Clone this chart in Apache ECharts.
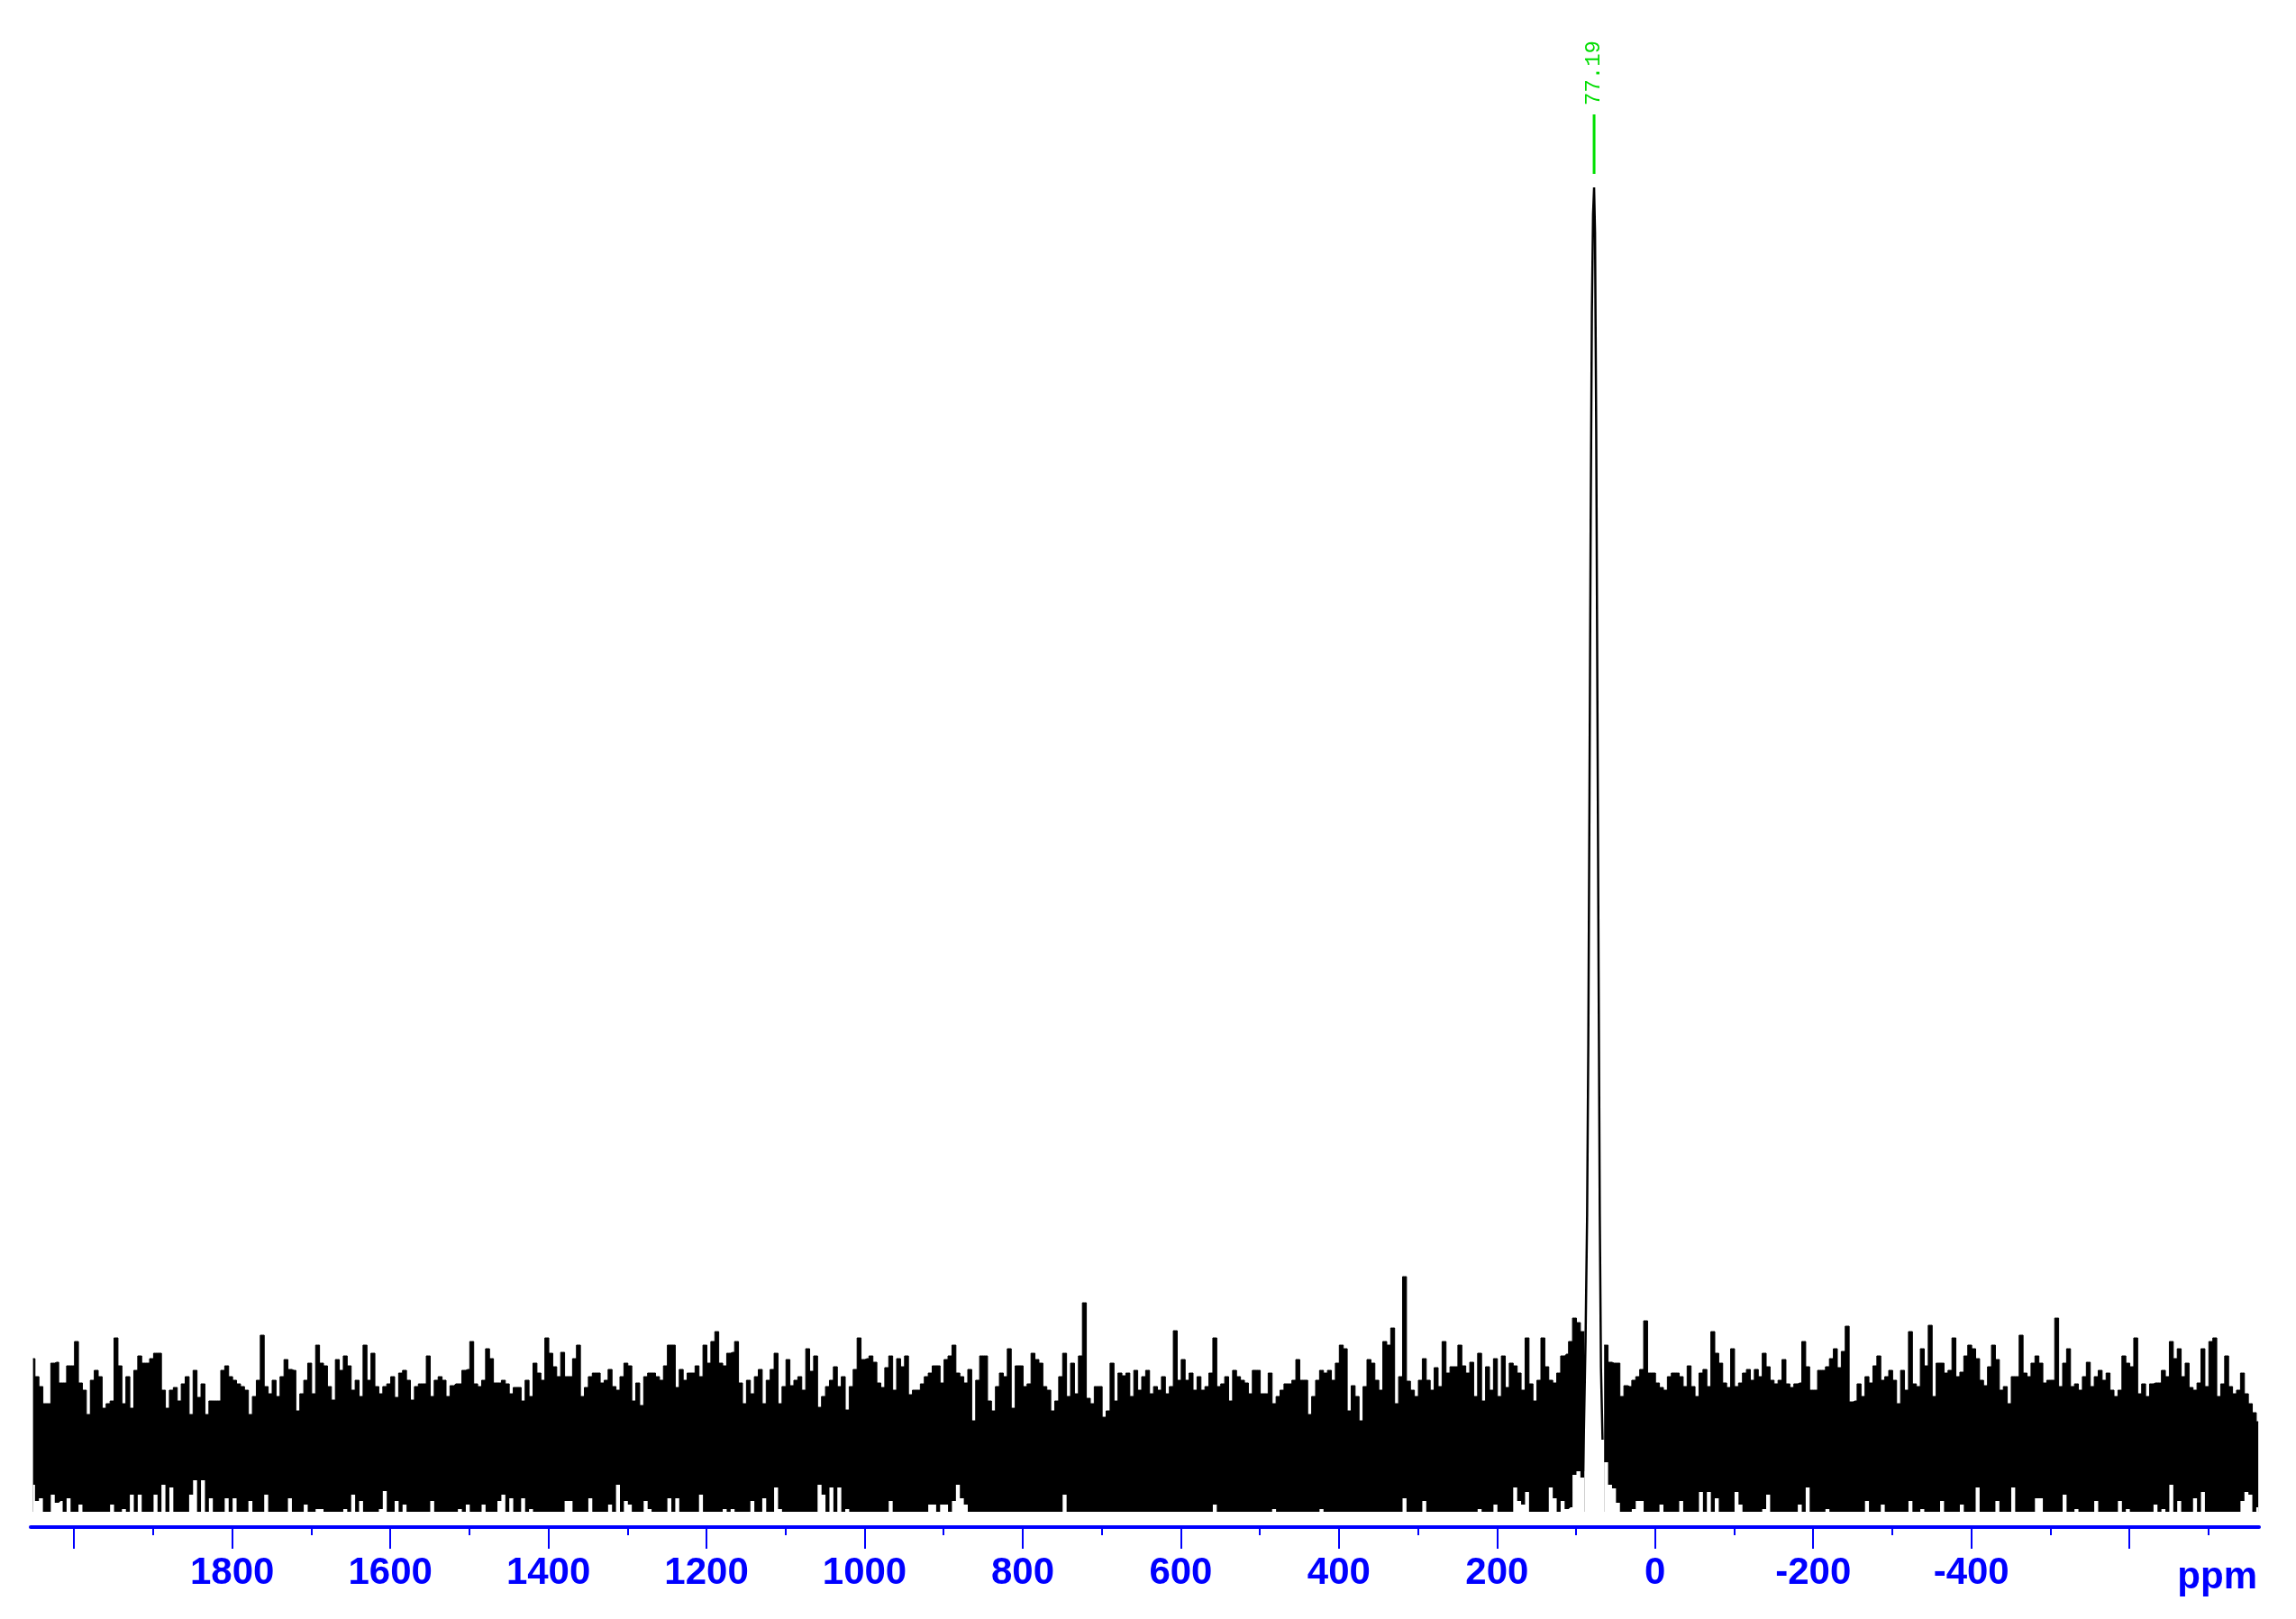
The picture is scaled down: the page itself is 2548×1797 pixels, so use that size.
<!DOCTYPE html>
<html>
<head>
<meta charset="utf-8">
<title>spectrum 77.19 ppm</title>
<script src="https://cdn.jsdelivr.net/npm/echarts@6/dist/echarts.min.js"></script>
<style>
  html, body { margin: 0; padding: 0; background: #fff; }
  #main { width: 2548px; height: 1797px; }
</style>
</head>
<body>
<div id="main"></div>
<script>
// noise columns, one every 5 ppm from 2052 ppm downwards
const noiseStart = 2052
const noiseStep = 5
// upper edge of the noise in each column (null where the peak is)
const noiseTop = [
  170, 150, 139, 120, 120, 165, 166, 143, 143, 162,
  162, 189, 143, 135, 108, 146, 157, 150, 115, 120,
  123, 193, 162, 120, 150, 115, 157, 173, 165, 165,
  170, 176, 176, 135, 115, 135, 138, 123, 142, 150,
  108, 157, 127, 142, 108, 123, 123, 123, 157, 162,
  150, 146, 142, 139, 135, 108, 128, 146, 196, 139,
  131, 146, 128, 150, 169, 158, 157, 112, 131, 146,
  165, 131, 185, 165, 162, 139, 124, 169, 157, 173,
  162, 135, 146, 128, 185, 146, 176, 139, 131, 139,
  142, 150, 127, 154, 157, 146, 124, 139, 142, 142,
  173, 128, 146, 150, 146, 128, 140, 142, 142, 157,
  158, 189, 142, 139, 146, 181, 170, 143, 143, 146,
  142, 131, 138, 138, 123, 146, 128, 165, 154, 146,
  193, 176, 161, 150, 177, 150, 150, 170, 185, 128,
  138, 150, 154, 154, 143, 146, 158, 139, 135, 150,
  165, 162, 123, 143, 118, 150, 154, 154, 150, 146,
  162, 185, 185, 138, 158, 146, 154, 154, 162, 150,
  185, 165, 189, 200, 165, 162, 176, 177, 189, 143,
  120, 146, 131, 150, 158, 120, 146, 158, 176, 120,
  139, 169, 140, 146, 150, 135, 181, 156, 173, 116,
  128, 139, 146, 161, 139, 150, 113, 139, 158, 193,
  169, 170, 173, 166, 143, 138, 160, 173, 135, 170,
  161, 173, 130, 135, 135, 142, 150, 154, 162, 162,
  143, 169, 173, 185, 154, 150, 143, 158, 101, 146,
  173, 173, 123, 112, 139, 154, 150, 181, 115, 162,
  162, 139, 142, 176, 169, 165, 139, 135, 112, 123,
  150, 176, 128, 165, 131, 173, 232, 126, 120, 139,
  139, 105, 112, 165, 123, 154, 151, 154, 128, 157,
  135, 150, 157, 131, 139, 135, 150, 131, 139, 201,
  146, 169, 146, 154, 135, 150, 135, 139, 154, 193,
  139, 142, 150, 123, 157, 150, 146, 143, 131, 157,
  157, 131, 131, 154, 120, 128, 135, 142, 142, 146,
  169, 146, 146, 108, 128, 146, 157, 154, 157, 146,
  165, 185, 181, 112, 140, 128, 101, 139, 169, 165,
  146, 135, 189, 185, 204, 120, 150, 261, 145, 135,
  128, 146, 170, 146, 135, 160, 139, 189, 154, 161,
  161, 185, 162, 154, 166, 128, 176, 123, 161, 135,
  170, 128, 173, 138, 165, 162, 154, 135, 193, 142,
  123, 146, 193, 161, 146, 143, 154, 173, 175, 189,
  215, 210, 200, null, null, null, null, null, 185, 166,
  165, 165, 128, 140, 139, 146, 150, 158, 212, 154,
  154, 143, 138, 135, 150, 154, 154, 150, 139, 162,
  139, 128, 154, 158, 139, 200, 176, 165, 143, 138,
  181, 139, 143, 154, 158, 146, 158, 150, 176, 161,
  146, 142, 146, 169, 142, 138, 142, 143, 189, 161,
  135, 135, 157, 157, 161, 170, 181, 160, 178, 206,
  122, 123, 142, 128, 150, 143, 162, 173, 146, 150,
  157, 146, 120, 157, 135, 200, 142, 139, 181, 162,
  207, 128, 165, 165, 154, 157, 193, 150, 155, 173,
  185, 181, 170, 146, 140, 161, 185, 169, 135, 139,
  120, 150, 150, 196, 154, 150, 165, 173, 165, 143,
  146, 146, 215, 139, 165, 181, 139, 142, 135, 150,
  166, 139, 150, 157, 146, 154, 135, 128, 135, 173,
  165, 161, 193, 131, 142, 128, 142, 143, 143, 157,
  150, 189, 170, 181, 150, 165, 138, 135, 143, 181,
  139, 189, 193, 128, 142, 173, 139, 131, 135, 154,
  131, 120, 110, 100
]
// lower edge of the noise (white gaps above the floor)
const noiseBottom = [
  30, 12, 15, 0, 0, 19, 10, 12, 0, 15,
  0, 0, 8, 0, 0, 0, 0, 0, 0, 0,
  8, 0, 0, 3, 0, 19, 0, 19, 0, 0,
  0, 19, 0, 30, 0, 27, 0, 0, 0, 0,
  19, 35, 0, 35, 0, 15, 0, 0, 0, 15,
  0, 15, 0, 0, 0, 12, 0, 0, 0, 19,
  0, 0, 0, 0, 0, 15, 0, 0, 0, 8,
  0, 0, 3, 3, 0, 0, 0, 0, 0, 3,
  0, 19, 0, 12, 0, 0, 0, 0, 3, 23,
  0, 0, 12, 0, 8, 0, 0, 0, 0, 0,
  0, 12, 0, 0, 0, 0, 0, 0, 3, 0,
  8, 0, 0, 0, 8, 0, 0, 0, 12, 19,
  0, 15, 0, 0, 15, 0, 3, 0, 0, 0,
  0, 0, 0, 0, 0, 12, 12, 0, 0, 0,
  0, 15, 0, 0, 0, 0, 8, 0, 30, 0,
  12, 8, 0, 0, 0, 12, 3, 0, 0, 0,
  0, 15, 0, 15, 0, 0, 0, 0, 0, 19,
  0, 0, 0, 0, 0, 3, 0, 3, 0, 0,
  0, 0, 12, 0, 0, 15, 0, 0, 27, 3,
  0, 0, 0, 0, 0, 0, 0, 0, 0, 30,
  19, 0, 27, 0, 27, 0, 3, 0, 0, 0,
  0, 0, 0, 0, 0, 0, 0, 12, 0, 0,
  0, 0, 0, 0, 0, 0, 0, 8, 8, 0,
  8, 8, 0, 12, 30, 15, 8, 0, 0, 0,
  0, 0, 0, 0, 0, 0, 0, 0, 0, 0,
  0, 0, 0, 0, 0, 0, 0, 0, 0, 0,
  0, 19, 0, 0, 0, 0, 0, 0, 0, 0,
  0, 0, 0, 0, 0, 0, 0, 0, 0, 0,
  0, 0, 0, 0, 0, 0, 0, 0, 0, 0,
  0, 0, 0, 0, 0, 0, 0, 0, 0, 8,
  0, 0, 0, 0, 0, 0, 0, 0, 0, 0,
  0, 0, 0, 0, 3, 0, 0, 0, 0, 0,
  0, 0, 0, 0, 0, 0, 3, 0, 0, 0,
  0, 0, 0, 0, 0, 0, 0, 0, 0, 0,
  0, 0, 0, 0, 0, 0, 0, 15, 0, 0,
  0, 0, 12, 0, 0, 0, 0, 0, 0, 0,
  0, 0, 0, 0, 0, 0, 3, 0, 0, 0,
  8, 0, 0, 0, 0, 27, 12, 8, 22, 0,
  0, 0, 0, 0, 27, 15, 0, 12, 3, 5,
  41, 45, 38, null, null, null, null, null, 55, 30,
  26, 10, 0, 0, 0, 3, 12, 12, 0, 0,
  0, 0, 8, 0, 0, 0, 0, 12, 0, 0,
  0, 0, 22, 0, 22, 0, 15, 0, 0, 0,
  0, 22, 8, 0, 0, 0, 0, 0, 3, 19,
  0, 0, 0, 0, 0, 0, 0, 8, 0, 27,
  0, 0, 0, 0, 3, 0, 0, 0, 0, 0,
  0, 0, 0, 0, 12, 0, 0, 0, 8, 0,
  0, 0, 0, 0, 0, 12, 0, 0, 3, 0,
  0, 0, 0, 12, 0, 0, 0, 0, 8, 0,
  0, 0, 27, 0, 0, 0, 0, 12, 0, 0,
  0, 27, 0, 0, 0, 0, 0, 15, 15, 0,
  0, 0, 0, 0, 19, 0, 0, 3, 0, 0,
  0, 0, 12, 0, 0, 0, 0, 0, 12, 0,
  3, 0, 0, 0, 0, 0, 0, 8, 0, 3,
  0, 30, 0, 12, 0, 0, 0, 15, 0, 22,
  0, 0, 0, 0, 0, 0, 0, 0, 0, 12,
  22, 19, 0, 5
]
// the single resonance
const peakPpm = [91, 88, 86, 84.5, 83, 81.5, 80, 78.5, 77.19, 76, 74.5, 73, 71.5, 70, 68.5, 66.5]
const peakValue = [45, 190, 330, 520, 800, 1100, 1330, 1440, 1470, 1420, 1200, 900, 600, 330, 160, 80]
const peakLabel = 77.19
const peakMarker = [1485, 1551]
const labelValue = 1561

const majorTicks = [2000, 1800, 1600, 1400, 1200, 1000, 800, 600, 400, 200, 0, -200, -400, -600]
const minorTicks = [1900, 1700, 1500, 1300, 1100, 900, 700, 500, 300, 100, -100, -300, -500, -700]
const tickLabels = [1800, 1600, 1400, 1200, 1000, 800, 600, 400, 200, 0, -200, -400]

const blue = '#0000ff'
const axisFont = 'Liberation Sans'

const topData = noiseTop.map((v, i) => [noiseStart - noiseStep * i, v])
const bottomData = noiseBottom.map((v, i) => [noiseStart - noiseStep * i, v])
const peakData = peakPpm.map((p, i) => [p, peakValue[i]])
const markerData = peakMarker.map((v) => [peakLabel, v])

const chart = echarts.init(document.getElementById('main'), null, { renderer: 'canvas' })

const xBase = {
  type: 'value',
  min: -764,
  max: 2055,
  inverse: true,
  position: 'bottom',
  splitLine: { show: false },
}

chart.setOption({
  animation: false,
  backgroundColor: '#ffffff',
  grid: { left: 34, right: 41, top: 0, bottom: 102 },
  xAxis: [
    {
      ...xBase,
      axisLine: { show: true, onZero: false, lineStyle: { color: blue, width: 4 } },
      axisTick: {
        show: true,
        customValues: majorTicks,
        length: 24,
        lineStyle: { color: blue, width: 2 },
      },
      axisLabel: {
        show: true,
        customValues: tickLabels,
        formatter: (v) => String(v),
        color: blue,
        fontSize: 42,
        fontWeight: 'bold',
        fontFamily: axisFont,
        margin: 30,
      },
    },
    {
      ...xBase,
      axisLine: { show: false, onZero: false },
      axisTick: {
        show: true,
        customValues: minorTicks,
        length: 9,
        lineStyle: { color: blue, width: 2 },
      },
      axisLabel: { show: false },
    },
  ],
  yAxis: {
    type: 'value',
    min: -17,
    max: 1678,
    show: false,
    splitLine: { show: false },
  },
  series: [
    {
      name: 'noise',
      type: 'line',
      step: 'middle',
      symbol: 'none',
      silent: true,
      connectNulls: false,
      data: topData,
      lineStyle: { color: '#000000', width: 1 },
      areaStyle: { color: '#000000', opacity: 1 },
      z: 2,
    },
    {
      name: 'gaps',
      type: 'line',
      step: 'middle',
      symbol: 'none',
      silent: true,
      connectNulls: false,
      data: bottomData,
      lineStyle: { width: 0, opacity: 0 },
      areaStyle: { color: '#ffffff', opacity: 1 },
      z: 3,
    },
    {
      name: 'peak',
      type: 'line',
      symbol: 'none',
      silent: true,
      data: peakData,
      lineStyle: { color: '#000000', width: 2.5 },
      z: 4,
    },
    {
      name: 'marker',
      type: 'line',
      symbol: 'none',
      silent: true,
      data: markerData,
      lineStyle: { color: '#00e000', width: 3 },
      z: 5,
    },
  ],
})

// peak label sits on top of the marker, read upwards
const labelPos = chart.convertToPixel({ xAxisIndex: 0, yAxisIndex: 0 }, [peakLabel, labelValue])
chart.setOption({
  graphic: [
    {
      type: 'text',
      x: labelPos[0],
      y: labelPos[1],
      rotation: Math.PI / 2,
      style: {
        text: peakLabel.toFixed(2),
        fill: '#00dd00',
        font: '24px "Liberation Mono"',
        textAlign: 'left',
        textVerticalAlign: 'middle',
        align: 'left',
        verticalAlign: 'middle',
      },
    },
    {
      type: 'text',
      x: 2505,
      y: 1751,
      style: {
        text: 'ppm',
        fill: blue,
        font: 'bold 42px "Liberation Sans"',
        textAlign: 'right',
        textVerticalAlign: 'middle',
        align: 'right',
        verticalAlign: 'middle',
      },
    },
  ],
})
</script>
</body>
</html>
